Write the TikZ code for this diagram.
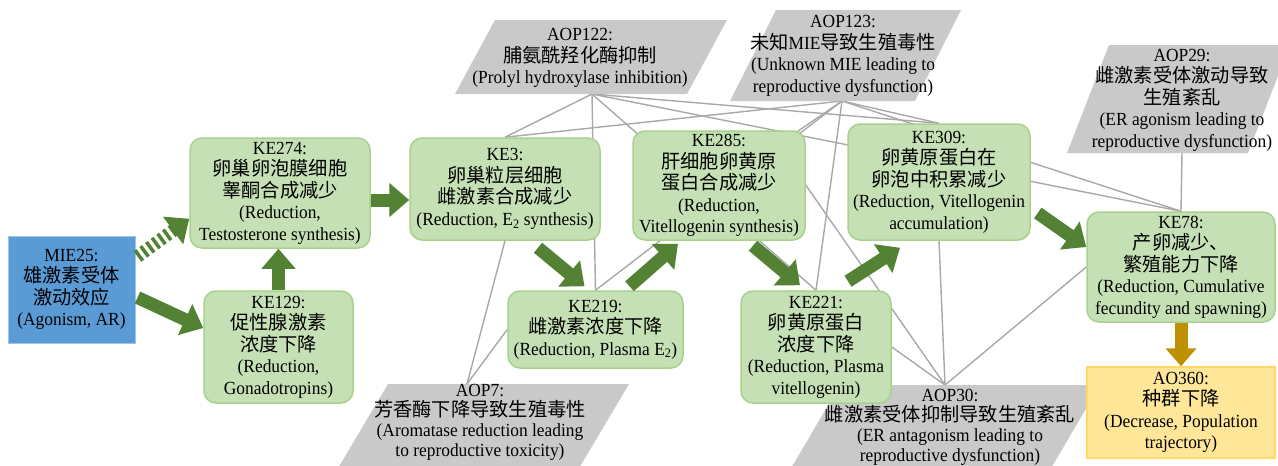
\documentclass[tikz,border=0pt]{standalone}
\usepackage{fontspec}
\setmainfont{Liberation Serif}[FakeStretch=0.94]
\newfontfamily\cjk[Scale=1.04]{Noto Sans CJK SC}
\newcommand{\zh}[1]{{\cjk #1}}
\usetikzlibrary{arrows.meta,calc,backgrounds}
\definecolor{boxgreen}{HTML}{C5E0B4}
\definecolor{boxgreenline}{HTML}{A9D18E}
\definecolor{mieblue}{HTML}{5B9BD5}
\definecolor{mieline}{HTML}{9DC3E6}
\definecolor{aoyellow}{HTML}{FFE699}
\definecolor{aoline}{HTML}{FFD966}
\definecolor{aopgray}{HTML}{C9C9C9}
\definecolor{linkgray}{HTML}{A8A8A8}
\definecolor{arrowgreen}{HTML}{548235}
\definecolor{arrowbrown}{HTML}{BF9000}
\begin{document}
\begin{tikzpicture}[x=1pt,y=-1pt,
  every node/.style={font=\fontsize{18.5}{21.5}\selectfont, align=center, inner sep=0pt},
  tighttext/.style={font=\fontsize{18.5}{20}\selectfont},
  kebox/.style={draw=boxgreenline, fill=boxgreen, line width=1.5pt, rounded corners=12pt},
  miebox/.style={draw=mieline, fill=mieblue, line width=1pt},
  aobox/.style={draw=aoline, fill=aoyellow, line width=1.5pt},
  aoppoly/.style={fill=aopgray},
  link/.style={draw=linkgray, line width=1.4pt},
  bigarrow/.style={draw=arrowgreen, line width=13pt, -{Triangle[width=33pt,length=20pt]}},
  brownarrow/.style={draw=arrowbrown, line width=13pt, -{Triangle[width=30pt,length=18pt]}}
]
\useasboundingbox (0,0) rectangle (1278,466);

% AOP parallelograms
\fill[aoppoly] (495,20) -- (727,20) -- (687,94) -- (455,94) -- cycle;
\node (A122) at (580,58) {AOP122:\\\zh{脯氨酰羟化酶抑制}\\(Prolyl hydroxylase inhibition)};
\fill[aoppoly] (776,10) -- (961,10) -- (915,101) -- (730,101) -- cycle;
\node (A123) at (843,56) {AOP123:\\\zh{未知}MIE\zh{导致生殖毒性}\\(Unknown MIE leading to\\reproductive dysfunction)};
\fill[aoppoly] (1109,45) -- (1290,45) -- (1248,153) -- (1067,153) -- cycle;
\node (A29) at (1182,100) {AOP29:\\\zh{雌激素受体激动导致}\\\zh{生殖紊乱}\\(ER agonism leading to\\reproductive dysfunction)};
\fill[aoppoly] (388,384) -- (629,384) -- (578,470) -- (337,470) -- cycle;
\node[tighttext] (A7) at (480,422) {AOP7:\\\zh{芳香酶下降导致生殖毒性}\\(Aromatase reduction leading\\to reproductive toxicity)};
\fill[aoppoly] (840,385) -- (1100,385) -- (1050,470) -- (790,470) -- cycle;
\node[tighttext] (A30) at (950,427) {AOP30:\\\zh{雌激素受体抑制导致生殖紊乱}\\(ER antagonism leading to\\reproductive dysfunction)};

\coordinate (a122) at (592,94);
\coordinate (a123) at (842,101);
\coordinate (a29) at (1182,153);
\coordinate (a7) at (467,384);
\coordinate (a30) at (945,385);

% Boxes
\node[miebox, minimum width=127pt, minimum height=107pt] (MIE) at (71.5,289.5)
  {MIE25:\\\zh{雄激素受体}\\\zh{激动效应}\\(Agonism, AR)};
\node[kebox, minimum width=180pt, minimum height=110pt] (KE274) at (280,193)
  {KE274:\\\zh{卵巢卵泡膜细胞}\\\zh{睾酮合成减少}\\(Reduction,\\Testosterone synthesis)};
\node[kebox, minimum width=149pt, minimum height=112pt] (KE129) at (278.5,347)
  {KE129:\\\zh{促性腺激素}\\\zh{浓度下降}\\(Reduction,\\Gonadotropins)};
\node[kebox, minimum width=190pt, minimum height=102pt] (KE3) at (505,189)
  {KE3:\\\zh{卵巢粒层细胞}\\\zh{雌激素合成减少}\\(Reduction, E\textsubscript{2} synthesis)};
\node[kebox, minimum width=175pt, minimum height=77pt] (KE219) at (595.5,329.5)
  {KE219:\\\zh{雌激素浓度下降}\\(Reduction, Plasma E\textsubscript{2})};
\node[kebox, minimum width=172pt, minimum height=109pt] (KE285) at (719,185.5)
  {KE285:\\\zh{肝细胞卵黄原}\\\zh{蛋白合成减少}\\(Reduction,\\Vitellogenin synthesis)};
\node[kebox, minimum width=150pt, minimum height=112pt] (KE221) at (816,347)
  {KE221:\\\zh{卵黄原蛋白}\\\zh{浓度下降}\\(Reduction, Plasma\\vitellogenin)};
\node[kebox, minimum width=182pt, minimum height=116pt] (KE309) at (939,182)
  {KE309:\\\zh{卵黄原蛋白在}\\\zh{卵泡中积累减少}\\(Reduction, Vitellogenin\\accumulation)};
\node[kebox, minimum width=188pt, minimum height=110pt] (KE78) at (1181,267)
  {KE78:\\\zh{产卵减少、}\\\zh{繁殖能力下降}\\(Reduction, Cumulative\\fecundity and spawning)};
\node[aobox, minimum width=188pt, minimum height=91pt] (AO360) at (1181,412.5)
  {AO360:\\\zh{种群下降}\\(Decrease, Population\\trajectory)};

% Block arrows
\draw[bigarrow, dash pattern=on 3.5pt off 3.5pt] ($(MIE.north east)+(2,21)$) -- ($(KE274.south west)+(0,-30)$);
\draw[bigarrow] ($(MIE.east)+(2,8)$) -- ($(KE129.west)+(0,-19)$);
\draw[bigarrow] (KE129.north) -- (KE129.north |- KE274.south);
\draw[bigarrow] ($(KE274.east)+(0,7)$) -- ($(KE3.west)+(0,11)$);
\draw[bigarrow] ($(KE3.south)+(33,7)$) -- ($(KE219.north)+(-11,-4)$);
\draw[bigarrow] ($(KE219.north)+(34,-4)$) -- ($(KE285.south)+(-41,3)$);
\draw[bigarrow] ($(KE285.south)+(34,5)$) -- ($(KE221.north)+(-16,-5)$);
\draw[bigarrow] ($(KE221.north)+(32,-9)$) -- ($(KE309.south)+(-39,7)$);
\draw[bigarrow] ($(KE309.east)+(7,31)$) -- ($(KE78.west)+(0,-20)$);
\draw[brownarrow] (KE78.south) -- (AO360.north);

% Gray links
\begin{pgfonlayer}{background}
\draw[link] (a122) -- (KE3.north);
\draw[link] (a122) -- (KE219.north);
\draw[link] (a122) -- (KE221.north);
\draw[link] (a122) -- (KE309.north);
\draw[link] (a122) -- (KE78.north);
\draw[link] (a123) -- (KE3.north);
\draw[link] (a123) -- (KE219.north);
\draw[link] (a123) -- ($(KE285.north east)+(-8,1)$);
\draw[link] (a123) -- (KE221.north);
\draw[link] (a123) -- (KE309.north);
\draw[link] (a123) -- (KE78.north);
\draw[link] (a29) -- (KE78.north);
\draw[link] (a7) -- (KE3.south);
\draw[link] (a7) -- (KE219.west);
\draw[link] (a30) -- ($(KE285.north east)+(-18,29)$);
\draw[link] (a30) -- (KE221.east);
\draw[link] (a30) -- (KE309.south);
\draw[link] (a30) -- (KE78.west);
\end{pgfonlayer}
\end{tikzpicture}
\end{document}
